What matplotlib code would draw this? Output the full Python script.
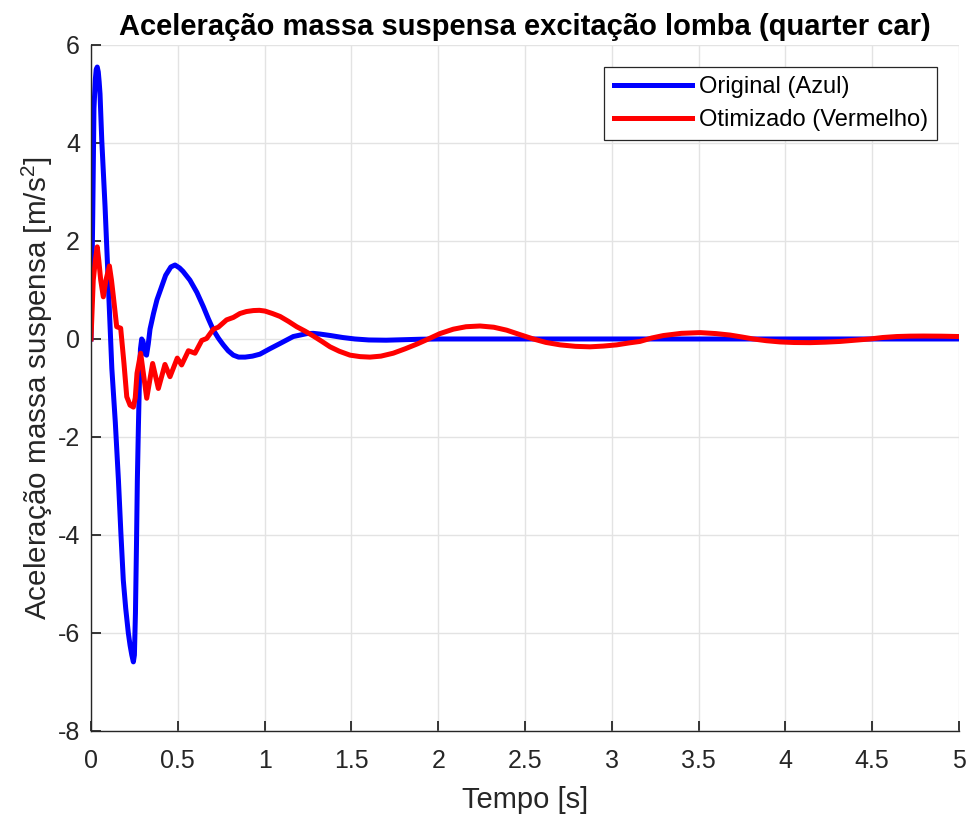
import numpy as np
import matplotlib
matplotlib.use("Agg")
import matplotlib.pyplot as plt

# valores
t_original = [0, 0.005, 0.01, 0.017, 0.025, 0.03, 0.036, 0.042, 0.047, 0.052,
              0.062, 0.081, 0.1, 0.12, 0.14, 0.158, 0.172, 0.186, 0.2, 0.215,
              0.225, 0.235, 0.244, 0.25, 0.256, 0.262, 0.267, 0.273, 0.279, 0.285,
              0.292, 0.30, 0.31, 0.32, 0.33, 0.34, 0.36, 0.38, 0.40, 0.43,
              0.46, 0.484, 0.51, 0.53, 0.57, 0.61, 0.647, 0.675, 0.705, 0.735,
              0.762, 0.79, 0.82, 0.85, 0.888, 0.93, 0.973, 1.03, 1.09, 1.165,
              1.244, 1.28, 1.32, 1.38, 1.45, 1.52, 1.6, 1.7, 1.8, 1.9,
              2.0, 3.0, 4.0, 5.0]
acc_original = [0, 1.2, 2.5, 4.7, 5.3, 5.5, 5.55, 5.45, 5.25, 5.0,
                4.06, 2.7, 1.1, -0.6, -1.7, -2.88, -3.95, -4.92, -5.5, -6.0,
                -6.25, -6.45, -6.59, -6.45, -5.6, -4.2, -2.88, -1.8, -0.84, -0.2,
                0.0, -0.05, -0.3, -0.33, -0.1, 0.2, 0.52, 0.8, 1.0, 1.3,
                1.47, 1.51, 1.45, 1.38, 1.2, 0.95, 0.66, 0.42, 0.18, 0.01,
                -0.12, -0.24, -0.33, -0.37, -0.37, -0.35, -0.31, -0.2, -0.09, 0.05,
                0.11, 0.115, 0.10, 0.07, 0.03, 0.0, -0.02, -0.025, -0.015, -0.005,
                0.0, 0.0, 0.0, 0.0]

t_otimizado = [0, 0.013, 0.025, 0.036, 0.045, 0.056, 0.071, 0.086, 0.106, 0.118,
               0.129, 0.148, 0.171, 0.19, 0.206, 0.225, 0.244, 0.255, 0.265, 0.286,
               0.321, 0.355, 0.388, 0.426, 0.455, 0.497, 0.522, 0.561, 0.599, 0.638,
               0.666, 0.705, 0.733, 0.781, 0.82, 0.858, 0.895, 0.935, 0.97, 1.002,
               1.045, 1.089, 1.137, 1.185, 1.233, 1.281, 1.33, 1.377, 1.43, 1.492,
               1.55, 1.607, 1.67, 1.741, 1.81, 1.88, 1.943, 2.01, 2.087, 2.16,
               2.241, 2.32, 2.394, 2.47, 2.548, 2.62, 2.702, 2.79, 2.874, 2.95,
               3.028, 3.1, 3.162, 3.23, 3.297, 3.4, 3.508, 3.6, 3.681, 3.75,
               3.815, 3.89, 3.969, 4.05, 4.142, 4.23, 4.315, 4.4, 4.487, 4.56,
               4.641, 4.72, 4.794, 4.9, 5.0]
acc_otimizado = [0, 1.2, 1.6, 1.88, 1.6, 1.2, 0.86, 1.2, 1.49, 1.2,
                 0.86, 0.25, 0.22, -0.5, -1.18, -1.35, -1.39, -1.2, -0.7, -0.29,
                 -1.21, -0.5, -1.01, -0.52, -0.77, -0.39, -0.53, -0.24, -0.29, -0.03,
                 0.01, 0.20, 0.24, 0.39, 0.44, 0.52, 0.56, 0.58, 0.585, 0.57,
                 0.52, 0.46, 0.36, 0.25, 0.16, 0.06, -0.05, -0.16, -0.25, -0.33,
                 -0.36, -0.37, -0.35, -0.29, -0.2, -0.1, 0.0, 0.11, 0.2, 0.25,
                 0.265, 0.24, 0.18, 0.09, 0.0, -0.07, -0.12, -0.15, -0.16, -0.145,
                 -0.12, -0.08, -0.05, 0.02, 0.07, 0.115, 0.13, 0.11, 0.08, 0.04,
                 0.0, -0.035, -0.06, -0.072, -0.075, -0.065, -0.05, -0.025, 0.0, 0.03,
                 0.05, 0.058, 0.06, 0.057, 0.05]

x_ticks = [0, 0.5, 1, 1.5, 2, 2.5, 3, 3.5, 4, 4.5, 5]
x_tick_labels = ["0", "0.5", "1", "1.5", "2", "2.5", "3", "3.5", "4", "4.5", "5"]
y_ticks = [-8, -6, -4, -2, 0, 2, 4, 6]

plt.rcParams['font.family'] = ['Liberation Sans', 'DejaVu Sans']
plt.rcParams['mathtext.fontset'] = 'custom'
plt.rcParams['mathtext.rm'] = 'Liberation Sans'
plt.rcParams['mathtext.it'] = 'Liberation Sans'
plt.rcParams['axes.unicode_minus'] = False

fig = plt.figure(figsize=(9.66, 8.15), dpi=100)
ax = fig.add_axes([0.0942, 0.1031, 0.8986, 0.8417])

ax.plot(t_original, acc_original, color='#0000ff', lw=3.6, label='Original (Azul)')
ax.plot(t_otimizado, acc_otimizado, color='#ff0000', lw=3.6, label='Otimizado (Vermelho)')

ax.set_xlim(0, 5)
ax.set_ylim(-8, 6)
ax.set_xticks(x_ticks)
ax.set_xticklabels(x_tick_labels)
ax.set_yticks(y_ticks)
ax.grid(True, color='#e3e3e3', lw=1.0)
ax.set_axisbelow(True)

for side in ['top', 'right']:
    ax.spines[side].set_visible(False)
for side in ['left', 'bottom']:
    ax.spines[side].set_color('#262626')
    ax.spines[side].set_linewidth(1.0)

ax.tick_params(direction='in', length=7, width=1.3, colors='#262626',
               labelsize=18)
ax.tick_params(axis='x', pad=13)
ax.tick_params(axis='y', pad=8)

ax.set_xlabel('Tempo [s]', fontsize=21, color='#262626', labelpad=9)
ax.set_ylabel('Aceleração massa suspensa [m/s$^2$]', fontsize=21.3,
              color='#262626', labelpad=2)
ax.set_title('Aceleração massa suspensa excitação lomba (quarter car)',
             fontsize=21, fontweight='bold', pad=7)

leg = ax.legend(loc='upper right', bbox_to_anchor=(0.975, 0.968), borderaxespad=0,
                fontsize=17, handlelength=3.3, handletextpad=0.3,
                labelspacing=0.45, borderpad=0.4, fancybox=False, framealpha=1)
leg.get_frame().set_edgecolor('#262626')
leg.get_frame().set_linewidth(0.9)

fig.savefig('out.png', dpi=100)
